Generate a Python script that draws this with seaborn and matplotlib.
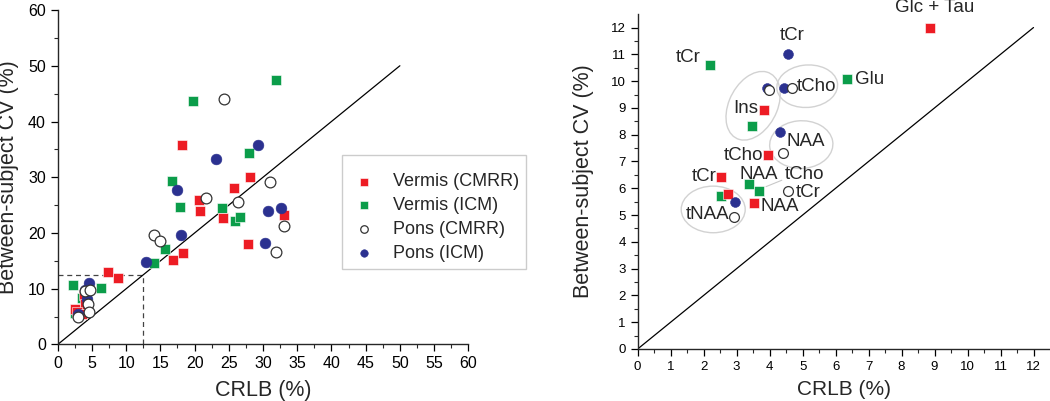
import matplotlib
matplotlib.use("Agg")
import matplotlib.pyplot as plt
from matplotlib.patches import Ellipse
import seaborn as sns
import pandas as pd
import numpy as np

# ---- data ----
# low-CRLB points (shown in both panels, labelled in the right one)
vc_low_x = [8.87, 3.83, 3.94, 2.54, 2.75, 3.53]
vc_low_y = [12.00, 8.93, 7.23, 6.42, 5.77, 5.45]
vi_low_x = [2.18, 6.35, 3.48, 3.39, 3.67, 2.54]
vi_low_y = [10.62, 10.09, 8.32, 6.17, 5.90, 5.71]
pc_low_x = [3.99, 4.67, 4.42, 4.56, 2.92]
pc_low_y = [9.66, 9.76, 7.33, 5.90, 4.94]
pi_low_x = [4.55, 3.93, 4.43, 4.32, 2.94]
pi_low_y = [11.00, 9.76, 9.76, 8.10, 5.47]

# remaining points, only in the left panel
vc_hi_x = [18.2, 28.1, 25.7, 20.7, 20.8, 24.1, 33.1, 27.8, 18.3, 16.9, 7.3]
vc_hi_y = [35.7, 30.0, 28.1, 26.0, 23.9, 22.7, 23.3, 18.1, 16.4, 15.1, 13.0]
vi_hi_x = [31.9, 19.8, 28.0, 16.7, 24.0, 25.9, 26.7, 17.8, 15.7, 14.0]
vi_hi_y = [47.4, 43.7, 34.3, 29.3, 24.4, 22.1, 22.9, 24.6, 17.1, 14.7]
pc_hi_x = [24.3, 31.0, 21.6, 26.4, 33.1, 31.9, 14.1, 15.0]
pc_hi_y = [44.0, 29.1, 26.2, 25.6, 21.3, 16.6, 19.7, 18.6]
pi_hi_x = [29.2, 23.2, 17.4, 30.7, 32.7, 30.3, 18.0, 12.9]
pi_hi_y = [35.7, 33.3, 27.8, 23.9, 24.5, 18.2, 19.6, 14.8]

series_names = ["Vermis (CMRR)", "Vermis (ICM)", "Pons (CMRR)", "Pons (ICM)"]

# metabolite labels on the right panel: (text, x, y)
labels = [
    ("Glc + Tau", 8.99, 12.74), ("tCr", 4.67, 11.69), ("tCr", 1.53, 10.89),
    ("Glu", 7.04, 10.07), ("tCho", 5.43, 9.79), ("Ins", 3.29, 8.98),
    ("NAA", 5.10, 7.75), ("tCho", 3.21, 7.24), ("tCr", 2.02, 6.44),
    ("NAA", 3.68, 6.52), ("tCho", 5.07, 6.52), ("tCr", 5.17, 5.84),
    ("NAA", 4.32, 5.32), ("tNAA", 2.13, 5.02),
]
# grey grouping ellipses: (cx, cy, width, height, angle)
ellipses = [
    (3.50, 9.08, 2.65, 1.50, 72),
    (5.14, 9.81, 1.85, 1.58, 10),
    (4.96, 7.63, 1.92, 1.78, 8),
    (2.29, 5.21, 1.94, 1.74, 0),
]

# ---- build tables ----
def frame(xs, ys, name):
    return pd.DataFrame({"crlb": xs, "cv": ys, "group": name})

left_df = pd.concat([
    frame(vc_low_x + vc_hi_x, vc_low_y + vc_hi_y, series_names[0]),
    frame(vi_low_x + vi_hi_x, vi_low_y + vi_hi_y, series_names[1]),
    frame(pc_low_x + pc_hi_x, pc_low_y + pc_hi_y, series_names[2]),
    frame(pi_low_x + pi_hi_x, pi_low_y + pi_hi_y, series_names[3]),
])
right_df = pd.concat([
    frame(vc_low_x, vc_low_y, series_names[0]),
    frame(vi_low_x, vi_low_y, series_names[1]),
    frame(pc_low_x, pc_low_y, series_names[2]),
    frame(pi_low_x, pi_low_y, series_names[3]),
])

styles = {
    "Vermis (CMRR)": dict(marker="s", color="#ed1c24", edgecolor="white", linewidth=0.4),
    "Vermis (ICM)": dict(marker="s", color="#0b9d4a", edgecolor="white", linewidth=0.4),
    "Pons (CMRR)": dict(marker="o", color="white", edgecolor="#333333", linewidth=0.9),
    "Pons (ICM)": dict(marker="o", color="#2b3190", edgecolor="#2b3190", linewidth=0.4),
}
# marker area (left, right)
sizes = {"s": (62, 50), "o": (60, 50)}
draw_order = ["Vermis (ICM)", "Vermis (CMRR)", "Pons (ICM)", "Pons (CMRR)"]

sns.set_style("ticks")
plt.rcParams["font.family"] = ["Liberation Sans", "DejaVu Sans"]

fig = plt.figure(figsize=(10.5, 4.01), dpi=100)
ax1 = fig.add_axes([0.055, 0.141, 0.391, 0.834])
ax2 = fig.add_axes([0.6073, 0.1297, 0.3927, 0.835])

# ---- left panel ----
for name in draw_order:
    d = left_df[left_df.group == name]
    st = styles[name]
    sns.scatterplot(data=d, x="crlb", y="cv", ax=ax1, s=sizes[st["marker"]][0],
                    label=name, zorder=3, **st)
h, l = ax1.get_legend_handles_labels()
handles = dict(zip(l, h))
ax1.plot([0, 50], [0, 50], color="black", lw=0.9, zorder=2)
ax1.plot([0, 12.5], [12.4, 12.4], color="#444444", lw=0.9, ls=(0, (4, 3)), zorder=1)
ax1.plot([12.5, 12.5], [0, 12.4], color="#444444", lw=0.9, ls=(0, (4, 3)), zorder=1)
ax1.set_xlim(0, 60)
ax1.set_ylim(0, 60)
ax1.set_xticks(np.arange(0, 61, 5))
ax1.set_xticks(np.arange(2.5, 60, 5), minor=True)
ax1.set_yticks(np.arange(0, 61, 10))
ax1.set_yticks(np.arange(5, 60, 10), minor=True)
ax1.set_xlabel("CRLB (%)", fontsize=15.5)
ax1.set_ylabel("Between-subject CV (%)", fontsize=15.5)
ax1.xaxis.set_label_coords(0.5, -0.105)
ax1.yaxis.set_label_coords(-0.094, 0.5)
leg = ax1.legend([handles[n] for n in series_names], series_names,
                 loc="upper left", bbox_to_anchor=(0.326, 0.613),
                 bbox_transform=fig.transFigure, fontsize=13, frameon=True,
                 fancybox=False, edgecolor="#cccccc", framealpha=1,
                 title=" ", title_fontsize=3,
                 borderpad=0.4, labelspacing=0.38, handlelength=1.6,
                 handletextpad=0.8, markerscale=0.7, borderaxespad=0)
leg.get_frame().set_linewidth(1.0)

# ---- right panel ----
for cx, cy, w, hgt, ang in ellipses:
    ax2.add_patch(Ellipse((cx, cy), w, hgt, angle=ang, fill=False,
                          edgecolor="#d2d2d2", lw=1.0, zorder=1))
for name in draw_order:
    d = right_df[right_df.group == name]
    st = styles[name]
    sns.scatterplot(data=d, x="crlb", y="cv", ax=ax2, s=sizes[st["marker"]][1],
                    legend=False, zorder=3, **st)
ax2.plot([0, 12], [0, 12], color="black", lw=0.9, zorder=2)
ax2.plot([3.89, 4.37], [6.06, 6.30], color="#c8c8c8", lw=0.8, zorder=1)
for txt, tx, ty in labels:
    ax2.text(tx, ty, txt, fontsize=13.5, ha="center", va="center", clip_on=False)
ax2.set_xlim(0, 12.5)
ax2.set_ylim(0, 12.5)
ax2.set_xticks(np.arange(0, 13, 1))
ax2.set_xticks(np.arange(0.5, 12.5, 1), minor=True)
ax2.set_yticks(np.arange(0, 13, 1))
ax2.set_yticks(np.arange(0.5, 12.5, 1), minor=True)
ax2.set_xlabel("CRLB (%)", fontsize=15)
ax2.set_ylabel("Between-subject CV (%)", fontsize=15.5)
ax2.xaxis.set_label_coords(0.5, -0.092)
ax2.yaxis.set_label_coords(-0.106, 0.5)

for ax, fs in ((ax1, 11.5), (ax2, 9.5)):
    sns.despine(ax=ax)
    ax.spines["left"].set_linewidth(1.0)
    ax.spines["bottom"].set_linewidth(1.0)
    ax.tick_params(which="major", length=5, width=0.9, labelsize=fs, colors="black")
    ax.tick_params(which="minor", length=3, width=0.8)

fig.savefig("out.png", dpi=100)
